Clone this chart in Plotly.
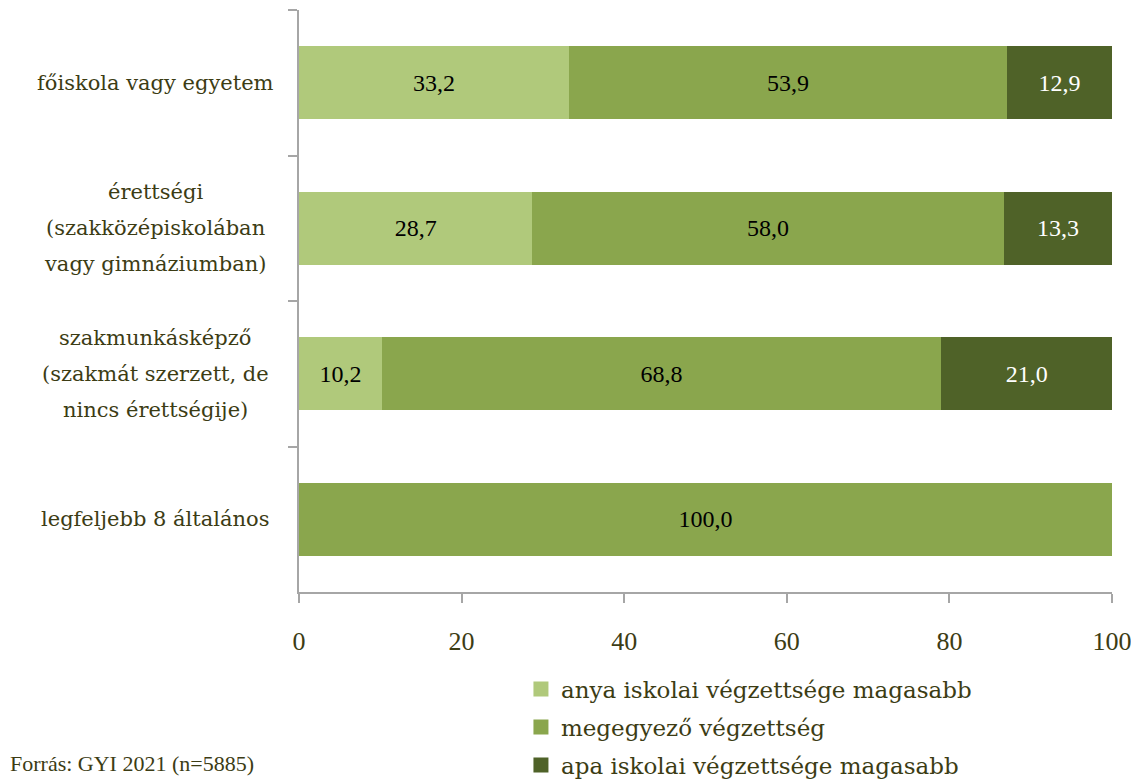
import plotly.graph_objects as go

categories = [
    "főiskola vagy egyetem",
    "érettségi<br>(szakközépiskolában<br>vagy gimnáziumban)",
    "szakmunkásképző<br>(szakmát szerzett, de<br>nincs érettségije)",
    "legfeljebb 8 általános",
]
series_names = [
    "anya iskolai végzettsége magasabb",
    "megegyező végzettség",
    "apa iskolai végzettsége magasabb",
]
anya = [33.2, 28.7, 10.2, 0.0]
megegyezo = [53.9, 58.0, 68.8, 100.0]
apa = [12.9, 13.3, 21.0, 0.0]
x_ticks = [0, 20, 40, 60, 80, 100]

colors = ["#b0c97b", "#8aa64d", "#4f6228"]
text_colors = ["#000000", "#000000", "#ffffff"]
txt_color = "#3c3c14"
serif = "DejaVu Serif"

fig = go.Figure()
for name, vals, col, tcol in zip(series_names, [anya, megegyezo, apa], colors, text_colors):
    labels = [("%.1f" % v).replace(".", ",") if v > 0 else "" for v in vals]
    fig.add_trace(go.Bar(
        y=categories, x=vals, name=name, orientation="h",
        marker=dict(color=col, line=dict(width=0)),
        text=labels, textposition="inside", insidetextanchor="middle",
        textfont=dict(family="Liberation Serif", size=24, color=tcol),
        legendgroup=name, showlegend=False, hoverinfo="x+name",
    ))
    # legend entry with a larger square swatch
    fig.add_trace(go.Scatter(
        x=[None], y=[None], mode="markers", name=name, legendgroup=name,
        marker=dict(symbol="square", size=15, color=col),
        showlegend=True, hoverinfo="skip",
    ))

# category labels, centred lines, right-aligned block
for i, cat in enumerate(categories):
    lines = cat.split("<br>")
    n = len(lines)
    for j, line in enumerate(lines):
        fig.add_annotation(
            x=0, xref="x", y=cat, yref="y",
            text=line, showarrow=False, xanchor="center", yanchor="middle",
            xshift=-144, yshift=((n - 1) / 2 - j) * 36,
            font=dict(family=serif, size=21, color=txt_color),
        )

fig.add_annotation(
    x=-0.358, xref="paper", y=-0.295, yref="paper",
    text="Forrás: GYI 2021 (n=5885)", showarrow=False,
    xanchor="left", yanchor="middle",
    font=dict(family="Liberation Serif", size=22, color=txt_color),
)

fig.update_layout(
    width=1131, height=773,
    margin=dict(l=291, r=27, t=2, b=189, autoexpand=False),
    barmode="stack", bargap=0.5,
    separators=", ",
    plot_bgcolor="white", paper_bgcolor="white",
    showlegend=True,
    legend=dict(
        x=0.273, y=-0.13, xanchor="left", yanchor="top",
        traceorder="grouped", tracegroupgap=5,
        font=dict(family=serif, size=23, color=txt_color),
        bgcolor="rgba(0,0,0,0)",
    ),
    xaxis=dict(
        range=[0, 100], tickvals=x_ticks, showgrid=False, zeroline=False,
        showline=True, linecolor="#a6a6a6", linewidth=1.5,
        ticks="outside", ticklen=9, tickcolor="#a6a6a6", tickwidth=1.5,
        ticklabelstandoff=16,
        tickfont=dict(family="Liberation Serif", size=26, color=txt_color),
    ),
    yaxis=dict(
        autorange="reversed", showgrid=False, zeroline=False,
        showline=True, linecolor="#a6a6a6", linewidth=1.5,
        ticks="outside", ticklen=9, tickcolor="#a6a6a6", tickwidth=1.5,
        tickson="boundaries", showticklabels=False,
    ),
)

fig.write_html("out.html")
